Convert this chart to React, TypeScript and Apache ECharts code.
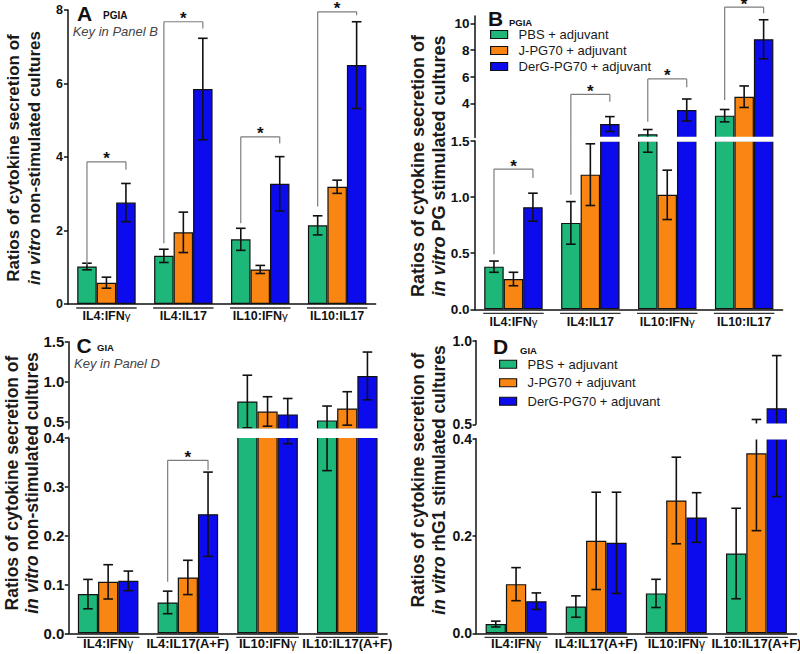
import { useEffect, useRef } from 'react';
import * as echarts from 'echarts';

// ---------- DATA ----------
const groupNames = ['PBS + adjuvant', 'J-PG70 + adjuvant', 'DerG-PG70 + adjuvant'];
const catsPGIA = ['IL4:IFNγ', 'IL4:IL17', 'IL10:IFNγ', 'IL10:IL17'];
const catsGIA = ['IL4:IFNγ', 'IL4:IL17(A+F)', 'IL10:IFNγ', 'IL10:IL17(A+F)'];

// Panel A (PGIA, non-stimulated)
const aPBS = [1.02, 1.31, 1.76, 2.14];
const aPBSErr = [0.09, 0.18, 0.3, 0.26];
const aJPG = [0.58, 1.95, 0.94, 3.19];
const aJPGErr = [0.15, 0.55, 0.11, 0.18];
const aDerG = [2.76, 5.85, 3.27, 6.5];
const aDerGErr = [0.52, 1.38, 0.74, 1.18];
const aTicks = [0, 2, 4, 6, 8];
// [category, bracket height, left leg end, right leg end]
const aBrackets = [
  [0, 3.87, 1.06, 3.65],
  [1, 7.68, 1.65, 7.5],
  [2, 4.55, 2.2, 4.37],
  [3, 7.95, 2.65, 7.86],
];

// Panel B (PGIA, PG stimulated)
const bPBS = [0.38, 0.77, 1.75, 3.13];
const bPBSErr = [0.05, 0.19, 0.35, 0.46];
const bJPG = [0.27, 1.2, 1.02, 4.54];
const bJPGErr = [0.06, 0.275, 0.22, 0.8];
const bDerG = [0.91, 2.51, 3.55, 8.81];
const bDerGErr = [0.125, 0.55, 0.82, 1.45];
const bLowerTicks = [0, 0.5, 1.0, 1.5];
const bUpperTicks = [4, 6, 8, 10];
const bBrackets = [
  [0, 1.25, 0.49, 1.17],
  [1, 4.72, 1.02, 4.17],
  [2, 5.86, 2.68, 5.24],
  [3, 11.2, 4.3, 10.74],
];

// Panel C (GIA, non-stimulated)
const cPBS = [0.08, 0.063, 0.749, 0.512];
const cPBSErr = [0.03, 0.023, 0.33, 0.18];
const cJPG = [0.105, 0.114, 0.624, 0.662];
const cJPGErr = [0.035, 0.035, 0.185, 0.21];
const cDerG = [0.107, 0.243, 0.587, 1.07];
const cDerGErr = [0.02, 0.086, 0.2, 0.3];
const cLowerTicks = [0, 0.1, 0.2, 0.3, 0.4];
const cUpperTicks = [0.5, 1.0, 1.5];
const cBrackets = [[1, 0.353, 0.105, 0.333]];

// Panel D (GIA, rhG1 stimulated)
const dPBS = [0.019, 0.055, 0.082, 0.164];
const dPBSErr = [0.006, 0.022, 0.029, 0.093];
const dJPG = [0.101, 0.19, 0.273, 0.37];
const dJPGErr = [0.034, 0.1, 0.089, 0.159];
const dDerG = [0.066, 0.186, 0.238, 0.596];
const dDerGErr = [0.017, 0.104, 0.051, 0.315];
const dLowerTicks = [0, 0.2, 0.4];
const dUpperTicks = [0.5, 1.0];
const dBrackets: number[][] = [];

// ---------- STYLE / LAYOUT ----------
const FONT = 'Arial, "Liberation Sans", Helvetica, sans-serif';
const COLORS = ['#1db77a', '#f98512', '#0b0bee'];
const INK = '#111';
const CAT_GAP = 0.24;

type Seg = {
  left: number; top: number; width: number; height: number; min: number; max: number;
  ticks: number[]; dec: number; labelPad?: number[];
};
type Panel = {
  cats: string[]; vals: number[][]; errs: number[][]; brackets: number[][];
  labelMargin: number; catFont: number; tickFont: number; tickLen: number; tickMargin: number;
  segs: Seg[];
};

const panels: Panel[] = [
  {
    cats: catsPGIA, vals: [aPBS, aJPG, aDerG], errs: [aPBSErr, aJPGErr, aDerGErr], brackets: aBrackets,
    labelMargin: 5, catFont: 12.5, tickFont: 12.5, tickLen: 4, tickMargin: 5,
    segs: [{ left: 68, top: 10, width: 307.6, height: 294, min: 0, max: 8, ticks: aTicks, dec: 0 }],
  },
  {
    cats: catsPGIA, vals: [bPBS, bJPG, bDerG], errs: [bPBSErr, bJPGErr, bDerGErr], brackets: bBrackets,
    labelMargin: 6, catFont: 12.5, tickFont: 13.5, tickLen: 4.5, tickMargin: 5.5,
    segs: [
      { left: 475, top: 16, width: 307.6, height: 121.6, min: 1.5, max: 10.54, ticks: bUpperTicks, dec: 0 },
      { left: 475, top: 141, width: 307.6, height: 168.3, min: 0, max: 1.5, ticks: bLowerTicks, dec: 1 },
    ],
  },
  {
    cats: catsGIA, vals: [cPBS, cJPG, cDerG], errs: [cPBSErr, cJPGErr, cDerGErr], brackets: cBrackets,
    labelMargin: 4, catFont: 13, tickFont: 15, tickLen: 3.5, tickMargin: 4,
    segs: [
      { left: 68.3, top: 341.7, width: 318.8, height: 87.6, min: 0.4, max: 1.5, ticks: cUpperTicks, dec: 1 },
      { left: 68.3, top: 437.3, width: 318.8, height: 196, min: 0, max: 0.4, ticks: cLowerTicks, dec: 1 },
    ],
  },
  {
    cats: catsGIA, vals: [dPBS, dJPG, dDerG], errs: [dPBSErr, dJPGErr, dDerGErr], brackets: dBrackets,
    labelMargin: 4, catFont: 13, tickFont: 14, tickLen: 3.5, tickMargin: 4,
    segs: [
      { left: 476, top: 340.7, width: 320.5, height: 83.6, min: 0.5, max: 1.0, ticks: dUpperTicks, dec: 1, labelPad: [0, 0, 4, 0] },
      { left: 476, top: 438.7, width: 320.5, height: 194.6, min: 0, max: 0.4, ticks: dLowerTicks, dec: 1, labelPad: [3, 0, 0, 0] },
    ],
  },
];

function line(x1: number, y1: number, x2: number, y2: number, stroke: string, lineWidth: number) {
  return { type: 'line', shape: { x1, y1, x2, y2 }, style: { stroke, lineWidth } };
}

function buildOption() {
  const grids: any[] = [];
  const xAxes: any[] = [];
  const yAxes: any[] = [];
  const series: any[] = [];
  let g = 0;

  panels.forEach((p) => {
    p.segs.forEach((sg, si) => {
      const isTop = si === 0;
      const isBottom = si === p.segs.length - 1;
      const gapBelow = isBottom ? 0 : p.segs[si + 1].top - (sg.top + sg.height);
      const gapAbove = isTop ? 0 : sg.top - (p.segs[si - 1].top + p.segs[si - 1].height);

      grids.push({ left: sg.left, top: sg.top, width: sg.width, height: sg.height, containLabel: false, outerBoundsMode: 'none' });
      xAxes.push({
        type: 'category', gridIndex: g, data: p.cats, show: isBottom,
        axisLine: { show: true, lineStyle: { color: INK, width: 1.5 } },
        axisTick: { show: false },
        axisLabel: {
          interval: 0, margin: p.labelMargin, color: INK, fontFamily: FONT, fontWeight: 'bold', fontSize: p.catFont,
          formatter: (v: string) => v.replace('γ', '{g|γ}'),
          rich: { g: { fontFamily: FONT, fontWeight: 'normal', fontSize: p.catFont - 1, color: INK } },
        },
        splitLine: { show: false },
      });
      yAxes.push({
        type: 'value', gridIndex: g, min: sg.min, max: sg.max,
        axisLine: { show: true, lineStyle: { color: INK, width: 1.5 } },
        axisTick: { show: true, length: p.tickLen, lineStyle: { color: INK, width: 1.5 }, customValues: sg.ticks },
        axisLabel: {
          customValues: sg.ticks, margin: p.tickMargin, color: INK, fontFamily: FONT, fontWeight: 'bold', fontSize: p.tickFont,
          padding: sg.labelPad || 0,
          formatter: (v: number) => Number(v).toFixed(sg.dec),
        },
        splitLine: { show: false },
      });

      for (let s = 0; s < 3; s++) {
        series.push({
          type: 'bar', name: groupNames[s], xAxisIndex: g, yAxisIndex: g, data: p.vals[s],
          barGap: '0%', barCategoryGap: CAT_GAP * 100 + '%', clip: true, z: 2,
          itemStyle: { color: COLORS[s], borderColor: INK, borderWidth: 1.2 },
          emphasis: { disabled: true },
        });
      }

      const errRows: number[][] = [];
      p.cats.forEach((_, c) => {
        for (let s = 0; s < 3; s++) errRows.push([c, s, p.vals[s][c], p.errs[s][c]]);
      });
      series.push({
        type: 'custom', xAxisIndex: g, yAxisIndex: g, clip: false, z: 3, silent: true,
        data: errRows.map((r) => [r[0], r[2]]),
        renderItem: (params: any, api: any) => {
          const [c, s, v, e] = errRows[params.dataIndex];
          const cs = params.coordSys;
          const bw = (api.size([1, 0])[0] * (1 - CAT_GAP)) / 3;
          const x = api.coord([c, sg.min])[0] + (s - 1) * bw;
          const yHi = api.coord([c, v + e])[1];
          const yLo = api.coord([c, v - e])[1];
          const top = cs.y;
          const bot = cs.y + cs.height;
          const a = Math.max(yHi, top);
          const b = Math.min(yLo, bot);
          const children: any[] = [];
          if (b > a) children.push(line(x, a, x, b, INK, 1.6));
          const cap = 4.8;
          if (yHi >= top - 0.01 && yHi <= bot) children.push(line(x - cap, yHi, x + cap, yHi, INK, 1.6));
          if (yLo >= top && yLo <= bot + 0.01) children.push(line(x - cap, yLo, x + cap, yLo, INK, 1.6));
          return { type: 'group', children };
        },
      });

      if (!isBottom) {
        series.push({
          type: 'custom', xAxisIndex: g, yAxisIndex: g, clip: false, z: 4, silent: true,
          data: [[0, sg.min]],
          renderItem: (params: any) => {
            const cs = params.coordSys;
            return {
              type: 'rect',
              shape: { x: cs.x + 1, y: cs.y + cs.height - 0.8, width: cs.width, height: gapBelow + 1.6 },
              style: { fill: '#ffffff' },
            };
          },
        });
      }

      if (p.brackets.length) {
        const br = p.brackets;
        series.push({
          type: 'custom', xAxisIndex: g, yAxisIndex: g, clip: false, z: 5, silent: true,
          data: br.map((r) => [r[0], r[1]]),
          renderItem: (params: any, api: any) => {
            const [c, h, e1, e2] = br[params.dataIndex];
            const cs = params.coordSys;
            const bw = (api.size([1, 0])[0] * (1 - CAT_GAP)) / 3;
            const cx = api.coord([c, sg.min])[0];
            const x1 = cx - bw;
            const x2 = cx + bw;
            const yOf = (v: number) => api.coord([c, v])[1];
            const top = cs.y;
            const bot = cs.y + cs.height;
            const children: any[] = [];
            const stroke = '#7d7d7d';
            const inRange = (v: number) => (isTop || v <= sg.max) && (isBottom || v >= sg.min);
            if (inRange(h)) {
              const yh = yOf(h);
              children.push(line(x1, yh, x2, yh, stroke, 1.2));
              children.push({
                type: 'text', x: cx, y: yh - 3,
                style: {
                  text: '*', fill: INK, font: `bold 17px ${FONT}`,
                  align: 'center', verticalAlign: 'middle', textAlign: 'center', textVerticalAlign: 'middle',
                },
              });
            }
            const leg = (x: number, e: number) => {
              if (!isBottom && h < sg.min) return;
              if (!isTop && e > sg.max) return;
              const yLo = !isBottom && e < sg.min ? bot + gapBelow / 2 : yOf(e);
              const yHi = !isTop && h > sg.max ? top - gapAbove / 2 : yOf(h);
              children.push(line(x, yHi, x, yLo, stroke, 1.2));
            };
            leg(x1, e1);
            leg(x2, e2);
            return { type: 'group', children };
          },
        });
      }

      if (isBottom) {
        series.push({
          type: 'custom', xAxisIndex: g, yAxisIndex: g, clip: false, z: 3, silent: true,
          data: p.cats.map((_, i) => [i, sg.min]),
          renderItem: (params: any, api: any) => {
            const cs = params.coordSys;
            const half = (api.size([1, 0])[0] * (1 - CAT_GAP)) / 2;
            const cx = api.coord([params.dataIndex, sg.min])[0];
            const y = cs.y + cs.height + 4;
            return line(cx - half - 1, y, cx + half + 1, y, '#333', 1.3);
          },
        });
      }
      g++;
    });
  });

  const yTitle = (x: number, y: number, second: string, size: number, lh: number) => {
    const rich = {
      b: { fontFamily: FONT, fontWeight: 'bold', fontSize: size, fill: '#1a1a1a', color: '#1a1a1a', lineHeight: lh },
      i: { fontFamily: FONT, fontWeight: 'bold', fontStyle: 'italic', fontSize: size, fill: '#1a1a1a', color: '#1a1a1a', lineHeight: lh },
    };
    return {
      type: 'text', x, y, rotation: Math.PI / 2, z: 10,
      style: {
        text: `{b|Ratios of cytokine secretion of}\n{i|in vitro}{b| ${second}}`,
        rich, align: 'center', verticalAlign: 'middle', textAlign: 'center', textVerticalAlign: 'middle',
      },
    };
  };
  const txt = (x: number, y: number, text: string, font: string, fill = INK) => ({
    type: 'text', x, y, z: 10,
    style: { text, font, fill, align: 'left', verticalAlign: 'middle', textAlign: 'left', textVerticalAlign: 'middle' },
  });

  const graphic = [
    yTitle(24, 158, 'non-stimulated cultures', 17, 21),
    yTitle(428, 166, 'PG stimulated cultures', 18, 21),
    yTitle(22, 483, 'non-stimulated cultures', 17.5, 20.5),
    yTitle(428, 480, 'rhG1 stimulated cultures', 17.5, 21),
    txt(77, 13.5, 'A', `bold 21px ${FONT}`),
    txt(103, 15.5, 'PGIA', `bold 10px ${FONT}`),
    txt(72.7, 31, 'Key in Panel B', `italic 13px ${FONT}`, '#444'),
    txt(488, 18, 'B', `bold 21px ${FONT}`),
    txt(509, 22, 'PGIA', `bold 9.5px ${FONT}`),
    txt(76.5, 345, 'C', `bold 21px ${FONT}`),
    txt(97, 347.5, 'GIA', `bold 9.5px ${FONT}`),
    txt(74, 363, 'Key in Panel D', `italic 13px ${FONT}`, '#444'),
    txt(493, 346, 'D', `bold 21px ${FONT}`),
    txt(520, 350.5, 'GIA', `bold 9.5px ${FONT}`),
  ];

  const legendBase = {
    data: groupNames, orient: 'vertical', icon: 'rect', itemWidth: 17, itemHeight: 8, itemGap: 0, padding: 0,
    selectedMode: false,
    itemStyle: { borderColor: INK, borderWidth: 1.2 },
  };

  return {
    animation: false,
    backgroundColor: '#ffffff',
    grid: grids,
    xAxis: xAxes,
    yAxis: yAxes,
    series,
    graphic,
    legend: [
      { ...legendBase, left: 490, top: 26.5, textStyle: { fontFamily: FONT, fontSize: 13, color: '#1a1a1a', lineHeight: 16, padding: [0, 0, 0, 6] } },
      { ...legendBase, left: 499, top: 355, textStyle: { fontFamily: FONT, fontSize: 13, color: '#1a1a1a', lineHeight: 18.5, padding: [0, 0, 0, 6] } },
    ],
  };
}

export default function App() {
  const ref = useRef<HTMLDivElement>(null);
  useEffect(() => {
    document.body.style.margin = '0';
    const chart = echarts.init(ref.current as HTMLDivElement, undefined, { renderer: 'svg' });
    chart.setOption(buildOption() as any);
    return () => chart.dispose();
  }, []);
  return <div ref={ref} style={{ width: 800, height: 654 }} />;
}
